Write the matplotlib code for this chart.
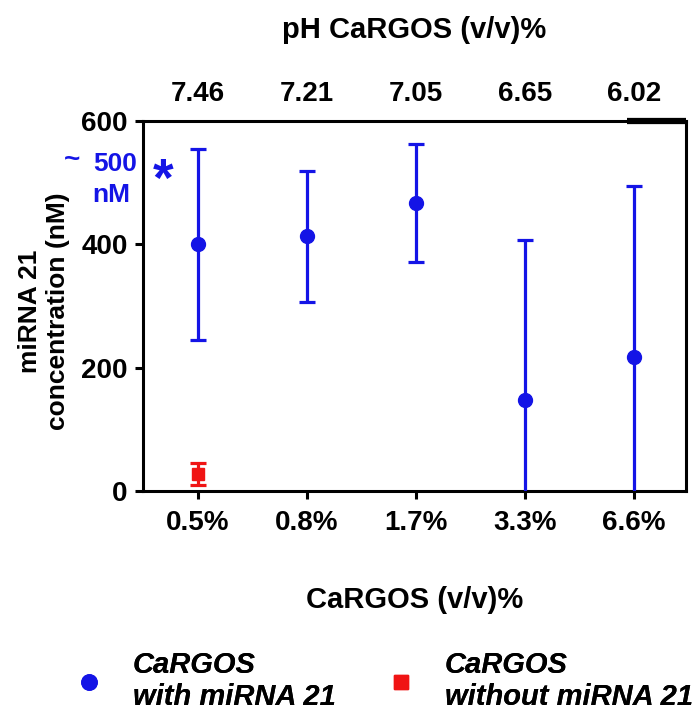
import matplotlib
matplotlib.use("Agg")
import matplotlib.pyplot as plt
from matplotlib.lines import Line2D

plt.rcParams['font.family'] = ['Liberation Sans', 'DejaVu Sans']
plt.rcParams['font.weight'] = 'bold'

categories = ["0.5%", "0.8%", "1.7%", "3.3%", "6.6%"]
ph_labels = ["7.46", "7.21", "7.05", "6.65", "6.02"]
with_mirna = [400, 413, 467, 148, 217]
with_mirna_err = [155, 106, 95, 259, 278]
without_mirna = [28]
without_mirna_err = [18]
legend_labels = ["CaRGOS\nwith miRNA 21", "CaRGOS\nwithout miRNA 21"]

blue = "#1414e6"
red = "#f01414"

W, H = 694, 712
fig = plt.figure(figsize=(W/100, H/100), dpi=100)
ax = fig.add_axes([143/W, 1-491/H, (686-143)/W, (491-121)/H])

x = list(range(len(categories)))
ax.errorbar(x, with_mirna, yerr=with_mirna_err, fmt='o', color=blue, ms=10,
            elinewidth=2.3, capsize=5.5, capthick=2.3, zorder=3)
ax.errorbar(x[:1], without_mirna, yerr=without_mirna_err, fmt='s', color=red, ms=8,
            elinewidth=2.3, capsize=5.5, capthick=2.3, zorder=3)

ax.set_xlim(-0.505, 4.48)
ax.set_ylim(0, 600)
ax.set_yticks([0, 200, 400, 600])
ax.set_xticks(x)
ax.set_xticklabels(categories)
for s in ax.spines.values():
    s.set_linewidth(2.2)
ax.plot([0.892, 1.0], [1.0, 1.0], transform=ax.transAxes, color='black',
        lw=4.5, clip_on=False, solid_capstyle='butt', zorder=5)
ax.tick_params(axis='both', width=2.2, length=6, labelsize=20, pad=5)
ax.tick_params(axis='x', pad=8)

ax.set_xlabel("CaRGOS (v/v)%", fontsize=21, fontweight='bold')
ax.xaxis.set_label_coords(0.5, (491-600)/370)
ax.xaxis.label.set_va('center')
ax.set_ylabel("miRNA 21\nconcentration (nM)", fontsize=19, fontweight='bold')
ax.yaxis.set_label_coords((44-143)/543, 0.485)
ax.yaxis.label.set_va('center')

top = ax.secondary_xaxis('top')
top.set_xticks(x)
top.set_xticklabels(ph_labels, fontsize=20, fontweight='bold')
top.tick_params(length=0, pad=10)
top.spines['top'].set_visible(False)
top.set_xlabel("pH CaRGOS (v/v)%", fontsize=21, fontweight='bold')
top.xaxis.set_label_coords(0.5, (491-30)/370, transform=ax.transAxes)
top.xaxis.label.set_va('center')

# annotation
fig.text(72/W, 1-160/H, "~", color=blue, fontsize=20, fontweight='bold', ha='center', va='center')
fig.text(93/W, 1-164/H, "500", color=blue, fontsize=19, fontweight='bold', ha='left', va='center')
fig.text(92/W, 1-195/H, "nM", color=blue, fontsize=19, fontweight='bold', ha='left', va='center')
fig.text(163/W, 1-182/H, "*", color=blue, fontsize=38, fontweight='bold', ha='center', va='center')

# legends
fs = 21
hl_px = 1.0 * fs * 100 / 72
h1 = Line2D([], [], marker='o', color=blue, ls='none', ms=11)
h2 = Line2D([], [], marker='s', color=red, ls='none', ms=10)
for h, lab, cx in [(h1, legend_labels[0], 89), (h2, legend_labels[1], 401)]:
    lg = fig.legend([h], [lab], loc='center left',
                    bbox_to_anchor=((cx - hl_px/2)/W, 1-681/H),
                    frameon=False, borderpad=0, borderaxespad=0,
                    prop={'size': fs, 'weight': 'bold', 'style': 'italic'},
                    handlelength=1.0, handletextpad=1.0, labelspacing=0)
    fig.add_artist(lg)

fig.savefig("out.png", dpi=100)
